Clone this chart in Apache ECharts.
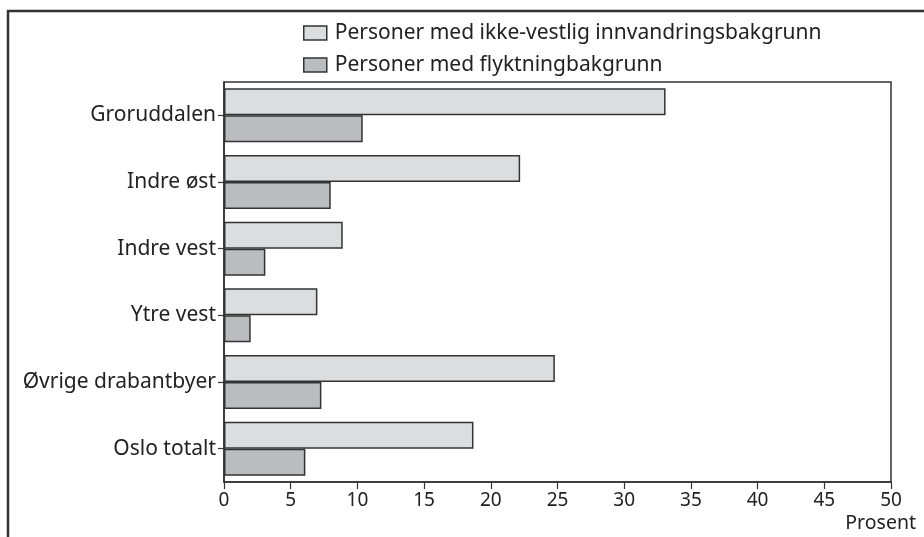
<!DOCTYPE html>
<html>
<head>
<meta charset="utf-8">
<script src="https://cdn.jsdelivr.net/npm/echarts@6/dist/echarts.min.js"></script>
<style>
  html, body { margin: 0; padding: 0; background: #fff; }
  #chart { width: 924px; height: 537px; }
</style>
</head>
<body>
<div id="chart"></div>
<script>
  // områder, ovenfra og ned
  var categories = ['Groruddalen', 'Indre øst', 'Indre vest', 'Ytre vest', 'Øvrige drabantbyer', 'Oslo totalt']
  var ikkeVestlig = [33.1, 22.2, 8.9, 7.0, 24.8, 18.7]
  var flyktning = [10.4, 8.0, 3.1, 2.0, 7.3, 6.1]
  var seriesNames = ['Personer med ikke-vestlig innvandringsbakgrunn', 'Personer med flyktningbakgrunn']
  var xTicks = [0, 5, 10, 15, 20, 25, 30, 35, 40, 45, 50]

  var font = 'Noto Sans'
  var myChart = echarts.init(document.getElementById('chart'))

  myChart.setOption({
    animation: false,
    backgroundColor: '#fff',
    textStyle: { fontFamily: font },
    graphic: [
      {
        type: 'rect',
        shape: { x: 8, y: 11, width: 960, height: 600 },
        style: { fill: 'none', stroke: '#333', lineWidth: 2.5 },
        z: 0
      },
      {
        type: 'text',
        right: 8,
        top: 513,
        style: { text: 'Prosent', fontFamily: font, fontSize: 19.5, fill: '#222' }
      }
    ],
    legend: {
      orient: 'vertical',
      left: 298,
      top: 16,
      itemWidth: 23,
      itemHeight: 14,
      itemGap: 8,
      icon: 'rect',
      itemStyle: { borderColor: '#333', borderWidth: 1.5 },
      textStyle: { fontFamily: font, fontSize: 21, color: '#222', lineHeight: 24, padding: [0, 0, 0, 3] },
      data: seriesNames
    },
    grid: {
      show: true,
      left: 224,
      right: 33,
      top: 82,
      bottom: 55,
      borderColor: '#333',
      borderWidth: 1.5,
      containLabel: false
    },
    xAxis: {
      type: 'value',
      min: 0,
      max: 50,
      interval: 5,
      splitLine: { show: false },
      axisLine: { show: true, lineStyle: { color: '#333', width: 1.5 } },
      axisTick: { show: true, length: 7, lineStyle: { color: '#333', width: 1.2 } },
      axisLabel: {
        color: '#222',
        fontSize: 19,
        margin: 9,
        formatter: function (v) { return xTicks.indexOf(v) >= 0 ? String(v) : '' }
      }
    },
    yAxis: {
      type: 'category',
      inverse: true,
      data: categories,
      axisLine: { show: true, lineStyle: { color: '#333', width: 1.5 } },
      axisTick: { show: true, alignWithLabel: true, length: 6, lineStyle: { color: '#333', width: 1.2 } },
      axisLabel: { color: '#222', fontSize: 21, margin: 8 }
    },
    series: [
      {
        name: seriesNames[0],
        type: 'bar',
        data: ikkeVestlig,
        barGap: '0%',
        barCategoryGap: '19%',
        itemStyle: { color: '#dcdddf', borderColor: '#333', borderWidth: 1.5 }
      },
      {
        name: seriesNames[1],
        type: 'bar',
        data: flyktning,
        itemStyle: { color: '#bbbcc0', borderColor: '#333', borderWidth: 1.5 }
      }
    ]
  })
</script>
</body>
</html>
